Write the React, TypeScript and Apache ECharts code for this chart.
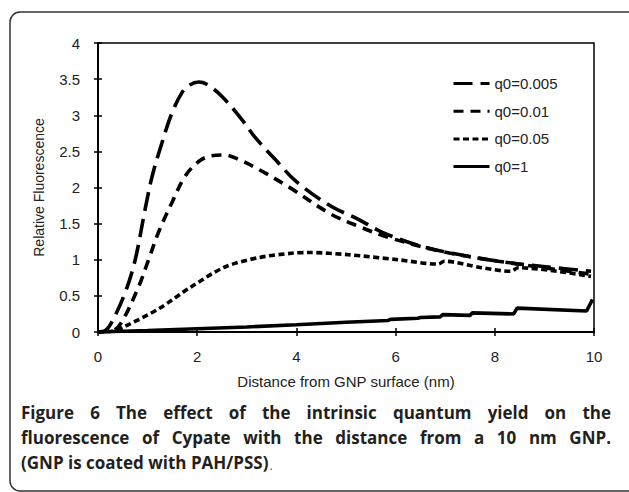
import React, { useEffect, useRef } from "react";
import * as echarts from "echarts";

// ---- data ----
const seriesNames = ["q0=0.005", "q0=0.01", "q0=0.05", "q0=1"];

const q0005X = [0, 0.15, 0.28, 0.55, 0.75, 0.95, 1.09, 1.29, 1.49, 1.69, 1.85, 2.03, 2.19, 2.5, 2.9, 3.16, 3.57, 4.0, 4.7, 5.25, 5.7, 6.4, 7.06, 8.07, 9.07, 9.94];
const q0005Y = [0, 0.02, 0.14, 0.55, 1.0, 1.7, 2.15, 2.62, 3.03, 3.31, 3.42, 3.46, 3.43, 3.26, 2.94, 2.7, 2.39, 2.08, 1.74, 1.56, 1.39, 1.21, 1.1, 0.98, 0.9, 0.84];

const q001X = [0, 0.3, 0.48, 0.82, 1.02, 1.22, 1.49, 1.75, 2.03, 2.29, 2.56, 2.83, 3.24, 3.84, 4.7, 5.3, 5.85, 6.9, 8.07, 9.94];
const q001Y = [0, 0.02, 0.14, 0.63, 1.0, 1.38, 1.79, 2.15, 2.36, 2.44, 2.45, 2.39, 2.25, 2.01, 1.63, 1.45, 1.31, 1.12, 0.98, 0.8];

const q005X = [0, 0.3, 0.55, 1.22, 1.89, 2.56, 3.24, 3.9, 4.24, 5.05, 6.05, 6.86, 6.98, 7.73, 8.33, 8.47, 9.94];
const q005Y = [0, 0.01, 0.08, 0.32, 0.63, 0.9, 1.03, 1.09, 1.1, 1.07, 1.0, 0.94, 0.98, 0.89, 0.84, 0.89, 0.77];

const q1X = [0, 1, 2, 3, 4, 5, 5.85, 5.9, 6.45, 6.5, 6.9, 6.95, 7.5, 7.55, 8.38, 8.45, 9.85, 9.97];
const q1Y = [0, 0.02, 0.045, 0.07, 0.1, 0.135, 0.16, 0.175, 0.19, 0.2, 0.21, 0.24, 0.23, 0.265, 0.25, 0.33, 0.29, 0.45];

const xMin = 0, xMax = 10, xStep = 2;
const yMin = 0, yMax = 4, yStep = 0.5;

const xTitle = "Distance from GNP surface (nm)";
const yTitle = "Relative Fluorescence";

const captionLines = [
  "Figure 6 The effect of the intrinsic quantum yield on the",
  "fluorescence of Cypate with the distance from a 10 nm GNP.",
  "(GNP is coated with PAH/PSS)",
];

// ---- helpers ----
const CAP_FONT_FAMILY = '"Open Sans", "DejaVu Sans", sans-serif';
const CAP_SIZE = 17;
const CAP_COLOR = "#231f20";

function measure(ctx: CanvasRenderingContext2D | null, s: string): number {
  if (!ctx) return s.length * CAP_SIZE * 0.58;
  return ctx.measureText(s).width;
}

function captionElements(): any[] {
  const canvas = document.createElement("canvas");
  const ctx = canvas.getContext("2d");
  if (ctx) ctx.font = `bold ${CAP_SIZE}px ${CAP_FONT_FAMILY}`;
  const x0 = 21, x1 = 611;
  const ys = [412, 437, 462];
  const els: any[] = [];
  captionLines.forEach((line, i) => {
    const words = line.split(" ");
    const justify = i < 2;
    const widths = words.map((w) => measure(ctx, w));
    const total = widths.reduce((a, b) => a + b, 0);
    const space = measure(ctx, " ");
    const gap = justify ? (x1 - x0 - total) / (words.length - 1) : space;
    let x = x0;
    words.forEach((w, k) => {
      els.push({
        type: "text",
        x,
        y: ys[i],
        silent: true,
        style: {
          text: w,
          fill: CAP_COLOR,
          fontSize: CAP_SIZE,
          fontWeight: "bold",
          fontFamily: CAP_FONT_FAMILY,
          verticalAlign: "middle",
          align: "left",
        },
      });
      x += widths[k] + gap;
    });
    if (i === 2) {
      els.push({
        type: "text",
        x: x - gap + 1,
        y: ys[i] + 3,
        silent: true,
        style: {
          text: ".",
          fill: "#555",
          fontSize: 12,
          fontFamily: CAP_FONT_FAMILY,
          verticalAlign: "middle",
          align: "left",
        },
      });
    }
  });
  return els;
}

const pairs = (xs: number[], ys: number[]) => xs.map((x, i) => [x, ys[i]]);

export default function App() {
  const ref = useRef<HTMLDivElement>(null);
  useEffect(() => {
    if (!ref.current) return;
    const chart = echarts.init(ref.current, undefined, { renderer: "svg" });
    const axisFont = '"Liberation Sans", Arial, sans-serif';
    const lw = 3.6;
    const mkSeries = (name: string, xs: number[], ys: number[], dash: any, smooth: any) => ({
      name,
      type: "line",
      xAxisIndex: 0,
      yAxisIndex: 0,
      data: pairs(xs, ys),
      showSymbol: false,
      symbol: "none",
      smooth,
      lineStyle: { color: "#000", width: lw, type: dash, cap: "butt" },
      itemStyle: { color: "#000" },
      z: 3,
    });
    chart.setOption({
      animation: false,
      backgroundColor: "#fff",
      grid: {
        left: 98,
        top: 43,
        width: 496,
        height: 289,
        show: true,
        borderColor: "#000",
        borderWidth: 1.5,
        backgroundColor: "transparent",
      },
      legend: {
        orient: "vertical",
        left: 447,
        top: 71,
        itemWidth: 36,
        itemHeight: 14,
        itemGap: 12.7,
        data: seriesNames,
        itemStyle: { color: "transparent", borderColor: "transparent", borderWidth: 0, opacity: 0 },
        lineStyle: { width: 3 },
        textStyle: { fontFamily: axisFont, fontSize: 15, color: "#222" },
        selectedMode: false,
      },
      xAxis: [
        {
          type: "value",
          min: xMin,
          max: xMax,
          interval: xStep,
          name: xTitle,
          nameLocation: "middle",
          nameGap: 42,
          nameTextStyle: { fontFamily: axisFont, fontSize: 15, color: "#222" },
          axisLine: { show: true, onZero: false, lineStyle: { color: "#000", width: 2 } },
          axisTick: { show: true, inside: false, length: 4, lineStyle: { color: "#000", width: 1.5 } },
          axisLabel: { fontFamily: axisFont, fontSize: 15, color: "#222", margin: 17 },
          splitLine: { show: false },
        },
        {
          type: "value",
          position: "bottom",
          min: xMin,
          max: xMax,
          interval: xStep,
          axisLine: { show: false },
          axisTick: { show: true, inside: true, length: 4, lineStyle: { color: "#000", width: 1.5 } },
          axisLabel: { show: false },
          splitLine: { show: false },
        },
      ],
      yAxis: [
        {
          type: "value",
          min: yMin,
          max: yMax,
          interval: yStep,
          name: yTitle,
          nameLocation: "middle",
          nameGap: 52,
          nameRotate: 90,
          nameTextStyle: { fontFamily: axisFont, fontSize: 14, color: "#222" },
          axisLine: { show: true, onZero: false, lineStyle: { color: "#000", width: 2 } },
          axisTick: { show: true, inside: false, length: 4, lineStyle: { color: "#000", width: 1.5 } },
          axisLabel: { fontFamily: axisFont, fontSize: 15, color: "#222", margin: 18 },
          splitLine: { show: false },
        },
        {
          type: "value",
          position: "left",
          min: yMin,
          max: yMax,
          interval: yStep,
          axisLine: { show: false },
          axisTick: { show: true, inside: true, length: 4, lineStyle: { color: "#000", width: 1.5 } },
          axisLabel: { show: false },
          splitLine: { show: false },
        },
      ],
      series: [
        mkSeries(seriesNames[0], q0005X, q0005Y, [19, 8], 0.35),
        mkSeries(seriesNames[1], q001X, q001Y, [10, 7], 0.35),
        mkSeries(seriesNames[2], q005X, q005Y, [6, 3.5], 0.3),
        mkSeries(seriesNames[3], q1X, q1Y, "solid", false),
      ],
      graphic: [
        {
          type: "rect",
          silent: true,
          shape: { x: 10, y: 12, width: 640, height: 479, r: 10 },
          style: { fill: "none", stroke: "#333", lineWidth: 1.5 },
          z: -1,
        },
        ...captionElements(),
      ],
    });
    return () => chart.dispose();
  }, []);
  return (
    <div
      ref={ref}
      style={{ position: "fixed", left: 0, top: 0, width: 629, height: 492, background: "#fff" }}
    />
  );
}
